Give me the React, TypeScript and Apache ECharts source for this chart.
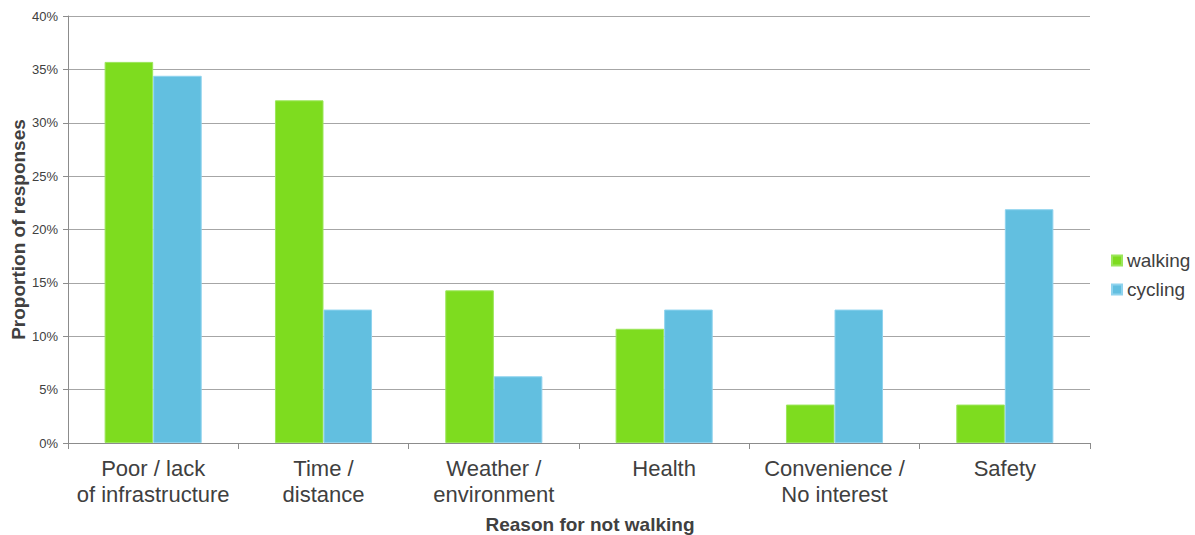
import React, { useEffect, useRef } from "react";
import * as echarts from "echarts";

const categories = [
  "Poor / lack\nof infrastructure",
  "Time /\ndistance",
  "Weather /\nenvironment",
  "Health",
  "Convenience /\nNo interest",
  "Safety",
];
const walking = [35.7, 32.1, 14.3, 10.7, 3.6, 3.6];
const cycling = [34.4, 12.5, 6.25, 12.5, 12.5, 21.9];
const seriesNames = ["walking", "cycling"];
const colors = ["#7EDC1F", "#62BFE0"];

export default function App() {
  const ref = useRef<HTMLDivElement>(null);
  useEffect(() => {
    if (!ref.current) return;
    const chart = echarts.init(ref.current, null, { renderer: "svg" });
    const font = "Liberation Sans, Arial, sans-serif";
    chart.setOption({
      animation: false,
      textStyle: { fontFamily: font },
      grid: { left: 68, right: 105, top: 16, bottom: 92, containLabel: false, outerBoundsMode: "none" },
      legend: {
        orient: "vertical",
        left: 1106,
        top: 246,
        itemWidth: 10,
        itemHeight: 10,
        itemGap: 10,
        icon: "rect",
        textStyle: { fontSize: 19, color: "#404040", fontFamily: font },
        data: seriesNames,
      },
      xAxis: {
        type: "category",
        data: categories,
        name: "Reason for not walking",
        nameLocation: "middle",
        nameGap: 72,
        nameMoveOverlap: false,
        nameTextStyle: {
          fontSize: 19,
          lineHeight: 19,
          fontWeight: "bold",
          color: "#404040",
          fontFamily: font,
          padding: [0, 0, 0, 22],
        },
        axisLine: { lineStyle: { color: "#8C8C8C", width: 1 } },
        axisTick: { show: true, length: 6, lineStyle: { color: "#8C8C8C" } },
        axisLabel: { fontSize: 22, color: "#404040", lineHeight: 26, margin: 12, interval: 0, fontFamily: font },
      },
      yAxis: {
        type: "value",
        min: 0,
        max: 40,
        interval: 5,
        name: "Proportion of responses",
        nameLocation: "middle",
        nameGap: 40,
        nameMoveOverlap: false,
        nameTextStyle: { fontSize: 19, fontWeight: "bold", color: "#404040", fontFamily: font },
        axisLine: { show: true, lineStyle: { color: "#8C8C8C" } },
        axisTick: { show: true, length: 5, lineStyle: { color: "#8C8C8C" } },
        axisLabel: { formatter: "{value}%", fontSize: 13, color: "#404040", margin: 10, fontFamily: font },
        splitLine: { lineStyle: { color: "#A6A6A6", width: 1 } },
      },
      series: [
        {
          name: seriesNames[0],
          type: "bar",
          data: walking,
          barGap: "0%",
          barCategoryGap: "43%",
          itemStyle: { color: colors[0], borderColor: "#9BE65A", borderWidth: 1 },
        },
        {
          name: seriesNames[1],
          type: "bar",
          data: cycling,
          barGap: "0%",
          barCategoryGap: "43%",
          itemStyle: { color: colors[1], borderColor: "#8FD3EE", borderWidth: 1 },
        },
      ],
    });
    return () => chart.dispose();
  }, []);
  return <div ref={ref} style={{ width: 1195, height: 535, position: "absolute", left: 0, top: 0 }} />;
}
